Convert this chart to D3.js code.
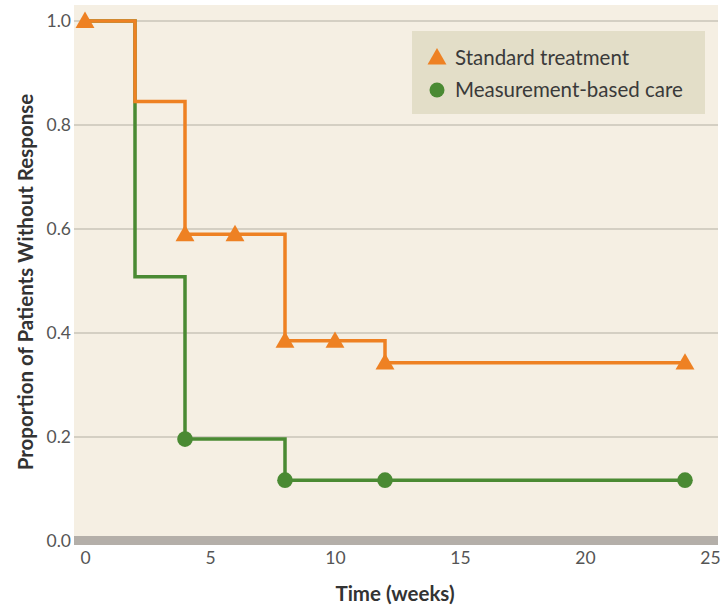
<!DOCTYPE html>
<html><head><meta charset="utf-8">
<script src="https://cdn.jsdelivr.net/npm/d3@7"></script>
<style>body{margin:0;background:#fff;font-family:Lato,"Open Sans",sans-serif;}</style>
</head><body><svg id="c" width="728" height="607"></svg>
<script>
const stdTimes = [0, 2, 4, 8, 12, 24];
const stdValues = [1.0, 0.845, 0.59, 0.385, 0.343, 0.343];
const stdMarkerTimes = [0, 4, 6, 8, 10, 12, 24];
const stdMarkerValues = [1.0, 0.59, 0.59, 0.385, 0.385, 0.343, 0.343];
const mbcTimes = [0, 2, 4, 8, 24];
const mbcValues = [1.0, 0.508, 0.196, 0.117, 0.117];
const mbcMarkerTimes = [4, 8, 12, 24];
const mbcMarkerValues = [0.196, 0.117, 0.117, 0.117];
const xTicks = [0, 5, 10, 15, 20, 25];
const yTicks = [0.0, 0.2, 0.4, 0.6, 0.8, 1.0];
const seriesNames = ["Standard treatment", "Measurement-based care"];
const colors = {std: "#ee8123", mbc: "#4a8a33"};

const svg = d3.select("#c");
const plot = {left: 74, right: 718, top: 5, bottom: 545};
const x = d3.scaleLinear().domain([0, 25]).range([85, 710]);
const y = d3.scaleLinear().domain([0, 1]).range([541, 21]);

svg.append("rect").attr("x", plot.left).attr("y", plot.top)
  .attr("width", plot.right - plot.left).attr("height", plot.bottom - plot.top)
  .attr("fill", "#f5efe3");

svg.append("g").selectAll("line").data(yTicks.filter(d => d > 0)).join("line")
  .attr("x1", plot.left).attr("x2", plot.right)
  .attr("y1", d => y(d)).attr("y2", d => y(d))
  .attr("stroke", "#c9c4b9").attr("stroke-width", 1.5);

svg.append("rect").attr("x", plot.left).attr("y", y(0) - 5)
  .attr("width", plot.right - plot.left).attr("height", 9).attr("fill", "#b4afa9");

const yAxis = d3.axisLeft(y).tickValues(yTicks).tickFormat(d3.format(".1f")).tickSize(0).tickPadding(3);
const yg = svg.append("g").attr("transform", `translate(${plot.left},0)`).call(yAxis);
yg.select(".domain").remove();
yg.selectAll("text").attr("font-size", 17.5).attr("fill", "#555").attr("font-family", "Lato, sans-serif");

const xAxis = d3.axisBottom(x).tickValues(xTicks).tickSize(0).tickPadding(7);
const xg = svg.append("g").attr("transform", `translate(0,${plot.bottom})`).call(xAxis);
xg.select(".domain").remove();
xg.selectAll("text").attr("font-size", 17.5).attr("fill", "#555").attr("font-family", "Lato, sans-serif");

svg.append("text").attr("x", 395).attr("y", 601).attr("text-anchor", "middle")
  .attr("font-size", 20.5).attr("font-weight", "bold").attr("fill", "#333").text("Time (weeks)");
svg.append("text").attr("transform", "translate(33,282) rotate(-90)").attr("text-anchor", "middle")
  .attr("font-size", 20.5).attr("font-weight", "bold").attr("fill", "#333")
  .text("Proportion of Patients Without Response");

const line = d3.line().curve(d3.curveStepAfter).x(d => x(d[0])).y(d => y(d[1]));
const mbcData = mbcTimes.map((t, i) => [t, mbcValues[i]]);
const stdData = stdTimes.map((t, i) => [t, stdValues[i]]);

svg.append("path").datum(mbcData).attr("d", line).attr("fill", "none")
  .attr("stroke", colors.mbc).attr("stroke-width", 3.5);
svg.append("path").datum(stdData).attr("d", line).attr("fill", "none")
  .attr("stroke", colors.std).attr("stroke-width", 3.5);

const tri = d3.symbol().type(d3.symbolTriangle).size(155);
svg.append("g").selectAll("path").data(stdMarkerTimes.map((t, i) => [t, stdMarkerValues[i]])).join("path")
  .attr("d", tri).attr("transform", d => `translate(${x(d[0])},${y(d[1]) + 1.5})`).attr("fill", colors.std);

svg.append("g").selectAll("circle").data(mbcMarkerTimes.map((t, i) => [t, mbcMarkerValues[i]])).join("circle")
  .attr("cx", d => x(d[0])).attr("cy", d => y(d[1])).attr("r", 7.8).attr("fill", colors.mbc);

const lg = svg.append("g");
lg.append("rect").attr("x", 412).attr("y", 31).attr("width", 293).attr("height", 83).attr("fill", "#e3dec8");
lg.append("path").attr("d", tri).attr("transform", "translate(437,59)").attr("fill", colors.std);
lg.append("circle").attr("cx", 437).attr("cy", 90).attr("r", 7.5).attr("fill", colors.mbc);
lg.selectAll("text.l").data(seriesNames).join("text").attr("class", "l")
  .attr("x", 455).attr("y", (d, i) => 65 + i * 32).attr("font-size", 20.5).attr("fill", "#3a3a3a")
  .text(d => d);
</script></body></html>
